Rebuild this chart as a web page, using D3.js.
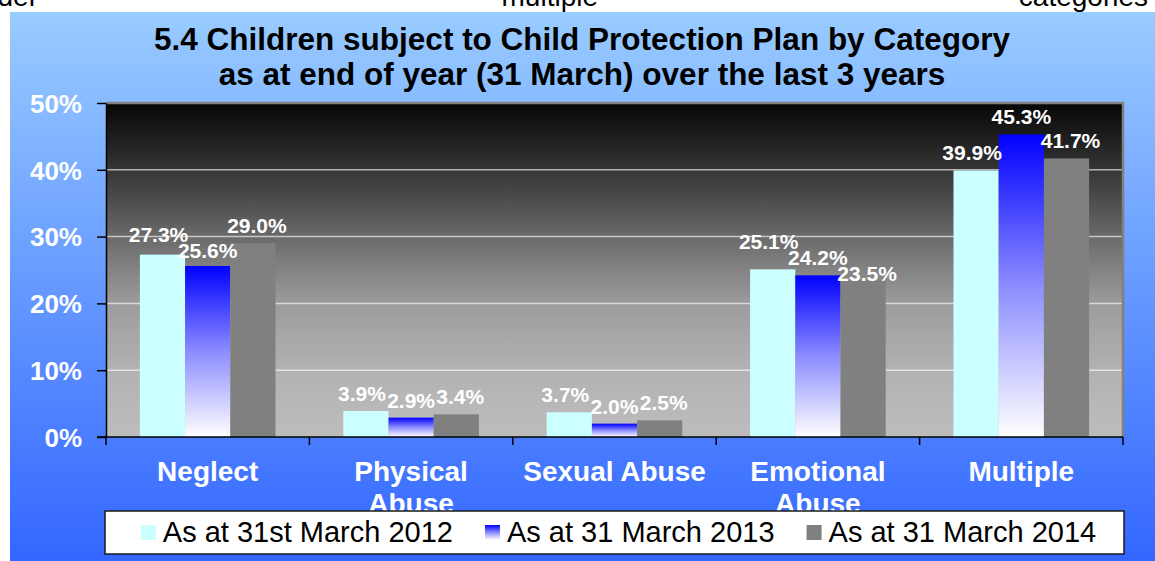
<!DOCTYPE html>
<html><head><meta charset="utf-8">
<script src="https://cdn.jsdelivr.net/npm/d3@7"></script>
<style>
body{margin:0;background:#fff;}
svg{display:block;font-family:"Liberation Sans",Arial,Helvetica,sans-serif;}
</style>
</head><body>
<svg id="chart" width="1155" height="561"></svg>
<script>
// ---- data ----
const categories = ["Neglect", "Physical Abuse", "Sexual Abuse", "Emotional Abuse", "Multiple"];
const seriesNames = ["As at 31st March 2012", "As at 31 March 2013", "As at 31 March 2014"];
const values2012 = [27.3, 3.9, 3.7, 25.1, 39.9];
const values2013 = [25.6, 2.9, 2.0, 24.2, 45.3];
const values2014 = [29.0, 3.4, 2.5, 23.5, 41.7];
const yTickValues = [0, 10, 20, 30, 40, 50];
const titleLines = ["5.4 Children subject to Child Protection Plan by Category",
                    "as at end of year (31 March) over the last 3 years"];
const clippedWords = ["under", "multiple", "categories"];

const seriesValues = [values2012, values2013, values2014];

// ---- layout ----
const W = 1155, H = 561;
const plot = {left: 106, right: 1123, top: 103, bottom: 437};
const svg = d3.select("#chart");
const defs = svg.append("defs");

function grad(id, stops) {
  const g = defs.append("linearGradient").attr("id", id)
    .attr("x1", 0).attr("y1", 0).attr("x2", 0).attr("y2", 1);
  stops.forEach(s => g.append("stop").attr("offset", s[0]).attr("stop-color", s[1]));
}
grad("bgGrad", [[0, "#99CCFF"], [1, "#3366FF"]]);
grad("plotGrad", [[0, "#060606"], [0.2, "#353535"], [0.4, "#6a6a6a"], [0.6, "#9c9c9c"], [0.8, "#b2b2b2"], [1, "#bdbdbd"]]);
grad("blueGrad", [[0, "#0000FF"], [0.5, "#8C8CFF"], [1, "#FFFFFF"]]);

const seriesFill = ["#CCFFFF", "url(#blueGrad)", "#808080"];

// clipped words from the page above (only their lower parts show)
const topText = svg.append("g").attr("font-size", 28).attr("fill", "#000");
[[38, clippedWords[0]], [598, clippedWords[1]], [1148, clippedWords[2]]].forEach(([px, w]) =>
  topText.append("text").attr("x", px).attr("y", 6).attr("text-anchor", "end").text(w));

// blue background
svg.append("rect").attr("x", 10).attr("y", 12).attr("width", W - 10).attr("height", H - 12)
  .attr("fill", "url(#bgGrad)");

// title
svg.append("g").selectAll("text").data(titleLines).join("text")
  .attr("x", 582).attr("y", (d, i) => 50 + i * 35)
  .attr("text-anchor", "middle").attr("font-size", 31.5).attr("font-weight", "bold")
  .attr("fill", "#000").text(d => d);

// scales
const x0 = d3.scaleBand().domain(categories).range([plot.left, plot.right]).padding(0);
const x1 = d3.scaleBand().domain(d3.range(seriesNames.length)).range([0, x0.bandwidth()])
  .paddingInner(0).paddingOuter(0.75);
const y = d3.scaleLinear().domain([0, 50]).range([plot.bottom, plot.top]);

// plot area
svg.append("rect").attr("x", plot.left).attr("y", plot.top)
  .attr("width", plot.right - plot.left).attr("height", plot.bottom - plot.top)
  .attr("fill", "url(#plotGrad)");

// gridlines
svg.append("g").selectAll("line").data(yTickValues.filter(v => v > 0 && v < 50)).join("line")
  .attr("x1", plot.left).attr("x2", plot.right)
  .attr("y1", d => y(d)).attr("y2", d => y(d))
  .attr("stroke", "#fff").attr("stroke-opacity", 0.62).attr("stroke-width", 1.5);

// plot border (top & right)
svg.append("path")
  .attr("d", `M${plot.left},${plot.top}H${plot.right}V${plot.bottom}`)
  .attr("fill", "none").attr("stroke", "#808080").attr("stroke-width", 2.5);

// bars
const groups = svg.append("g").selectAll("g").data(categories).join("g")
  .attr("transform", d => `translate(${x0(d)},0)`);
groups.selectAll("rect").data((c, ci) => seriesValues.map((vals, si) => ({si, v: vals[ci]}))).join("rect")
  .attr("x", d => x1(d.si)).attr("width", x1.bandwidth())
  .attr("y", d => y(d.v)).attr("height", d => y(0) - y(d.v))
  .attr("fill", d => seriesFill[d.si]);

// data labels with simple vertical de-overlap inside each group
const LABEL_H = 16;
groups.each(function(c, ci) {
  const g = d3.select(this);
  const labels = seriesValues.map((vals, si) => ({si, v: vals[ci]}));
  const texts = g.selectAll("text").data(labels).join("text")
    .attr("text-anchor", "middle").attr("font-size", 21).attr("font-weight", "bold")
    .attr("fill", "#fff").text(d => d.v.toFixed(1) + "%");
  texts.each(function(d) {
    d.w = this.getComputedTextLength();
    d.cx = x1(d.si) + x1.bandwidth() / 2 + (d.si - 1) * 4;
    d.by = d.y0 = y(d.v) - 10;
  });
  for (let iter = 0; iter < 10; iter++) {
    for (let i = 0; i < labels.length - 1; i++) {
      const a = labels[i], b = labels[i + 1];
      const hOver = (a.w + b.w) / 2 - Math.abs(b.cx - a.cx);
      const vOver = LABEL_H - Math.abs(b.by - a.by);
      if (hOver > 0 && vOver > 0) {
        const up = a.y0 <= b.y0 ? a : b, dn = up === a ? b : a;
        const need = LABEL_H - (dn.by - up.by);
        up.by -= need / 2; dn.by += need / 2;
      }
    }
  }
  texts.attr("x", d => d.cx).attr("y", d => d.by);
});

// y axis
const yAxis = svg.append("g").attr("transform", `translate(${plot.left},0)`)
  .call(d3.axisLeft(y).tickValues(yTickValues).tickFormat(d => d + "%").tickSize(9).tickSizeOuter(0));
yAxis.select(".domain").attr("stroke", "#000").attr("stroke-width", 1.5);
yAxis.selectAll(".tick line").attr("stroke", "#000").attr("stroke-width", 1.5);
yAxis.selectAll(".tick text").attr("x", -24).attr("dy", "0.36em")
  .attr("font-size", 26).attr("font-weight", "bold").attr("fill", "#fff")
  .attr("font-family", "'Liberation Sans',Arial,sans-serif");

// x axis baseline and boundary ticks
const boundaries = categories.map(c => x0(c)).concat([x0(categories[categories.length - 1]) + x0.bandwidth()]);
const xAxis = svg.append("g");
xAxis.append("line").attr("x1", plot.left - 9).attr("x2", plot.right)
  .attr("y1", y(0)).attr("y2", y(0)).attr("stroke", "#000").attr("stroke-width", 1.5);
xAxis.selectAll("line.tk").data(boundaries).join("line").attr("class", "tk")
  .attr("x1", d => d).attr("x2", d => d).attr("y1", y(0)).attr("y2", y(0) + 8)
  .attr("stroke", "#000").attr("stroke-width", 1.5);

// category labels with wrapping
const catText = svg.append("g").selectAll("text").data(categories).join("text")
  .attr("x", d => x0(d) + x0.bandwidth() / 2).attr("y", 481)
  .attr("text-anchor", "middle").attr("font-size", 28).attr("font-weight", "bold").attr("fill", "#fff");
catText.each(function(d) {
  const t = d3.select(this);
  const words = d.split(" ");
  let line = [], lines = [];
  const probe = t.append("tspan");
  words.forEach(w => {
    const test = line.concat([w]).join(" ");
    probe.text(test);
    if (probe.node().getComputedTextLength() > x0.bandwidth() && line.length) {
      lines.push(line.join(" ")); line = [w];
    } else line.push(w);
  });
  lines.push(line.join(" "));
  probe.remove();
  lines.forEach((l, i) => t.append("tspan").attr("x", t.attr("x")).attr("dy", i ? 32 : 0).text(l));
});

// legend
const lg = svg.append("g");
lg.append("rect").attr("x", 105).attr("y", 511).attr("width", 1019).attr("height", 43)
  .attr("fill", "#fff").attr("stroke", "#1a1a1a").attr("stroke-width", 1.5);
const items = lg.append("g");
let cx = 0;
seriesNames.forEach((n, i) => {
  const g = items.append("g").attr("transform", `translate(${cx},0)`);
  g.append("rect").attr("x", 0).attr("y", 525).attr("width", 15).attr("height", 15).attr("fill", seriesFill[i]);
  const t = g.append("text").attr("x", 22).attr("y", 542).attr("font-size", 29).attr("fill", "#000").text(n);
  cx += 22 + t.node().getComputedTextLength() + 32;
});
const totalW = cx - 32;
items.attr("transform", `translate(${(105 + 1124) / 2 - totalW / 2 + 4},0)`);
</script>
</body></html>
